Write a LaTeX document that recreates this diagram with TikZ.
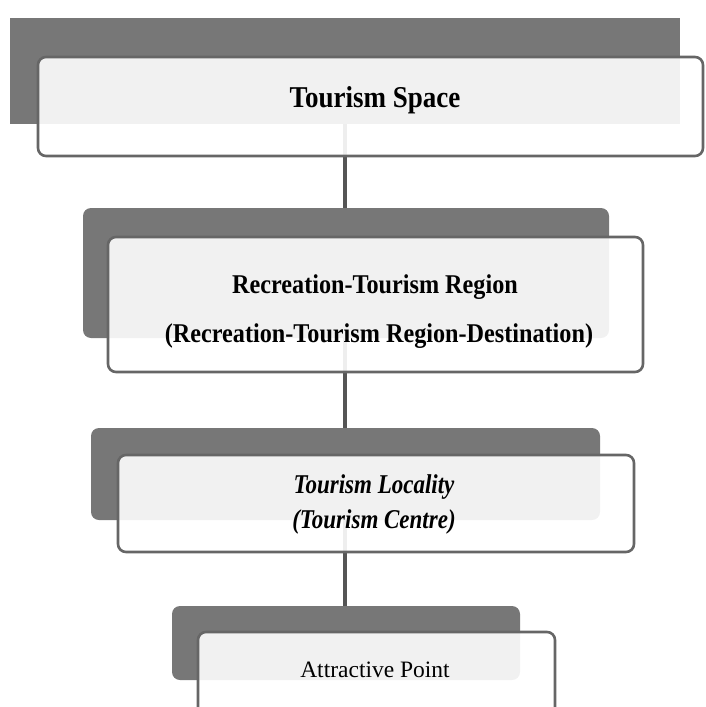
\documentclass[tikz,border=0pt]{standalone}
\usepackage{fontspec}
\setmainfont{Liberation Serif}
\usetikzlibrary{backgrounds}
\definecolor{backgray}{HTML}{777777}
\definecolor{edgegray}{HTML}{666666}
\definecolor{linegray}{HTML}{555555}
\newcommand{\tallt}[2][1.12]{\scalebox{1}[#1]{#2}}
\begin{document}
\begin{tikzpicture}[x=1pt,y=-1pt,
  backbox/.style={draw=none,fill=backgray,rounded corners=8pt,inner sep=0pt},
  frontbox/.style={draw=edgegray,line width=2.6pt,fill=white,fill opacity=0.9,rounded corners=8pt,inner sep=0pt},
  label/.style={inner sep=0pt,anchor=base,font=\fontsize{24.2}{28}\selectfont\bfseries},
  link/.style={draw=linegray,line width=3.2pt}]
\useasboundingbox (0,0) rectangle (705,707);
\clip (0,0) rectangle (705,707);
\coordinate (spine) at (345,0);
% level 1
\node[backbox,rounded corners=0pt,minimum width=670pt,minimum height=106pt] (b1) at (345,71) {};
\node[frontbox,minimum width=665pt,minimum height=99pt] (f1) at (370.5,106.5) {};
\node[label,font=\fontsize{27}{30}\selectfont\bfseries] (t1) at (375,107) {\tallt{Tourism Space}};
% level 2
\node[backbox,minimum width=526pt,minimum height=130pt] (b2) at (346,273) {};
\node[frontbox,minimum width=535pt,minimum height=135pt] (f2) at (375.5,304.5) {};
\node[label] (t2a) at (375,293) {\tallt{Recreation-Tourism Region}};
\node[label] (t2b) at (379,342) {\tallt{(Recreation-Tourism Region-Destination)}};
% level 3
\node[backbox,minimum width=509pt,minimum height=92pt] (b3) at (345.5,474) {};
\node[frontbox,minimum width=516pt,minimum height=97pt] (f3) at (376,503.5) {};
\node[label,font=\fontsize{23}{28}\selectfont\bfseries\itshape] (t3a) at (374,493) {\tallt[1.18]{Tourism Locality}};
\node[label,font=\fontsize{23}{28}\selectfont\bfseries\itshape] (t3b) at (374,528) {\tallt[1.18]{(Tourism Centre)}};
% level 4
\node[backbox,minimum width=348pt,minimum height=74pt] (b4) at (346,643) {};
\node[frontbox,minimum width=357pt,minimum height=83pt] (f4) at (376.5,673.5) {};
\node[label,font=\fontsize{23.5}{28}\selectfont] (t4) at (375,677) {Attractive Point};
% connectors
\begin{scope}[on background layer]
\draw[link] (spine |- f1.center) -- (spine |- f2.center);
\draw[link] (spine |- f2.center) -- (spine |- f3.center);
\draw[link] (spine |- f3.center) -- (spine |- f4.center);
\end{scope}
\end{tikzpicture}
\end{document}
